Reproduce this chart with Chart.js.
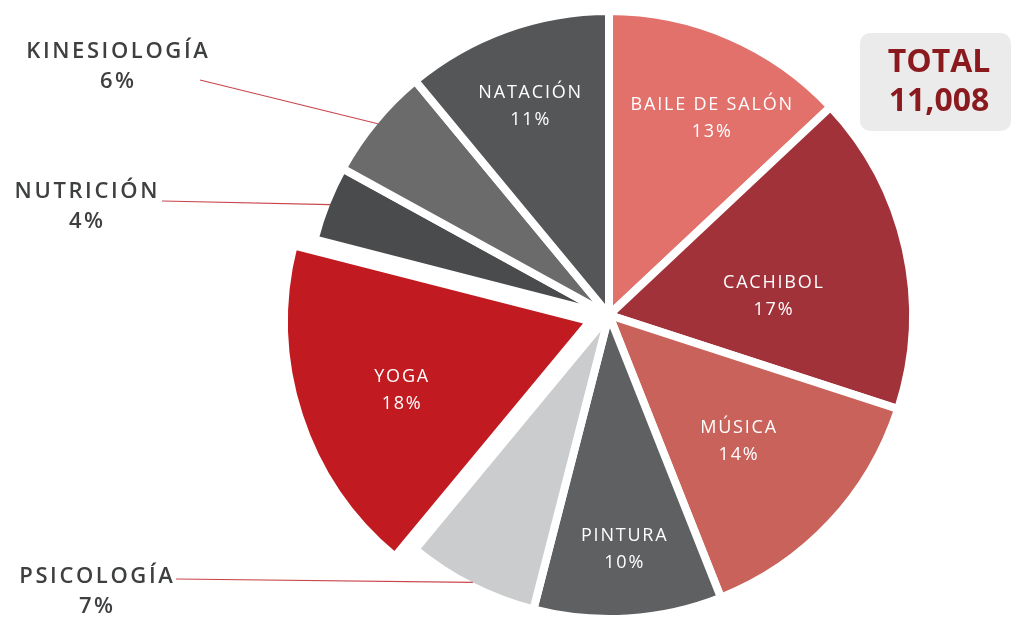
<!DOCTYPE html>
<html>
<head>
<meta charset="utf-8">
<script src="https://cdn.jsdelivr.net/npm/chart.js@4"></script>
<style>
  html, body { margin: 0; padding: 0; background: #ffffff; }
  #wrap { width: 1013px; height: 624px; position: relative; }
</style>
</head>
<body>
<div id="wrap"><canvas id="c" width="1013" height="624"></canvas></div>
<script>
// ---- data ----
const categories = ['BAILE DE SALÓN', 'CACHIBOL', 'MÚSICA', 'PINTURA', 'PSICOLOGÍA', 'YOGA', 'NUTRICIÓN', 'KINESIOLOGÍA', 'NATACIÓN'];
const percentages = [13, 17, 14, 10, 7, 18, 4, 6, 11];
const totalLabel = 'TOTAL';
const totalValue = '11,008';
const outsideCategories = ['PSICOLOGÍA', 'NUTRICIÓN', 'KINESIOLOGÍA'];

// ---- styles ----
const sliceColors = ['#E2716C', '#A2323A', '#C9625A', '#5F6062', '#CBCCCD', '#C11B21', '#494B4D', '#6B6B6C', '#545658'];
// Chart.js v4 translates an arc by offset/4
const sliceOffsets = [0, 0, 0, 0, 0, 80, 0, 0, 0];
// inside label placement: fraction of radius and angle nudge (degrees)
const insidePlacement = {
  'BAILE DE SALÓN': { f: 0.74, da: 4 },
  'CACHIBOL': { f: 0.55, da: 6 },
  'MÚSICA': { f: 0.60, da: 1 },
  'PINTURA': { f: 0.78, da: 0 },
  'YOGA': { f: 0.67, da: -2 },
  'NATACIÓN': { f: 0.745, da: -1 }
};
// outside label anchor: text centre and leader start
const outsidePlacement = {
  'KINESIOLOGÍA': { tx: 117, ty: 52, lx: 200, ly: 80 },
  'NUTRICIÓN': { tx: 86, ty: 192, lx: 162, ly: 201 },
  'PSICOLOGÍA': { tx: 96, ty: 577, lx: 176, ly: 579 }
};

const FONT = '"Open Sans", "DejaVu Sans", sans-serif';

const labelPlugin = {
  id: 'labels',
  afterDraw(chart) {
    const ctx = chart.ctx;
    const meta = chart.getDatasetMeta(0);
    ctx.save();
    ctx.textAlign = 'center';
    ctx.textBaseline = 'middle';
    meta.data.forEach((arc, i) => {
      const name = categories[i];
      const pct = percentages[i] + '%';
      const mid = (arc.startAngle + arc.endAngle) / 2;
      const off = sliceOffsets[i] / 4;
      const r = arc.outerRadius - 4;
      if (outsideCategories.includes(name)) {
        const p = outsidePlacement[name];
        const ex = arc.x + Math.cos(mid) * (r + off);
        const ey = arc.y + Math.sin(mid) * (r + off);
        ctx.strokeStyle = '#C9464B';
        ctx.lineWidth = 1.2;
        ctx.beginPath();
        ctx.moveTo(p.lx, p.ly);
        ctx.lineTo(ex, ey);
        ctx.stroke();
        ctx.fillStyle = '#3E3F40';
        ctx.font = '600 22px ' + FONT;
        ctx.letterSpacing = '2.6px';
        ctx.fillText(name, p.tx + 1.3, p.ty);
        ctx.fillText(pct, p.tx + 1.3, p.ty + 30);
      } else {
        const p = insidePlacement[name];
        const a = mid + p.da * Math.PI / 180;
        const cx = arc.x + Math.cos(mid) * off + Math.cos(a) * r * p.f;
        const cy = arc.y + Math.sin(mid) * off + Math.sin(a) * r * p.f;
        ctx.fillStyle = '#ffffff';
        ctx.font = '500 18px ' + FONT;
        ctx.letterSpacing = '1.8px';
        ctx.fillText(name, cx + 1, cy - 13);
        ctx.fillText(pct, cx + 1, cy + 14);
      }
    });
    // total box
    const bx = 860, by = 33, bw = 151, bh = 98;
    ctx.letterSpacing = '0px';
    ctx.fillStyle = '#EBEBEB';
    ctx.beginPath();
    ctx.roundRect(bx, by, bw, bh, 10);
    ctx.fill();
    ctx.fillStyle = '#8A1A1E';
    ctx.font = '700 32px ' + FONT;
    ctx.fillText(totalLabel, 939, 63);
    ctx.fillText(totalValue, 939, 102);
    ctx.restore();
  }
};

new Chart(document.getElementById('c'), {
  type: 'pie',
  data: {
    labels: categories,
    datasets: [{
      data: percentages,
      backgroundColor: sliceColors,
      borderColor: '#ffffff',
      borderWidth: 8,
      offset: sliceOffsets,
      hoverOffset: 0,
      radius: 304
    }]
  },
  options: {
    responsive: false,
    animation: false,
    layout: { padding: { left: 205, right: 0, top: 6, bottom: 0 } },
    plugins: {
      legend: { display: false },
      tooltip: { enabled: false }
    },
    events: []
  },
  plugins: [labelPlugin]
});
</script>
</body>
</html>
